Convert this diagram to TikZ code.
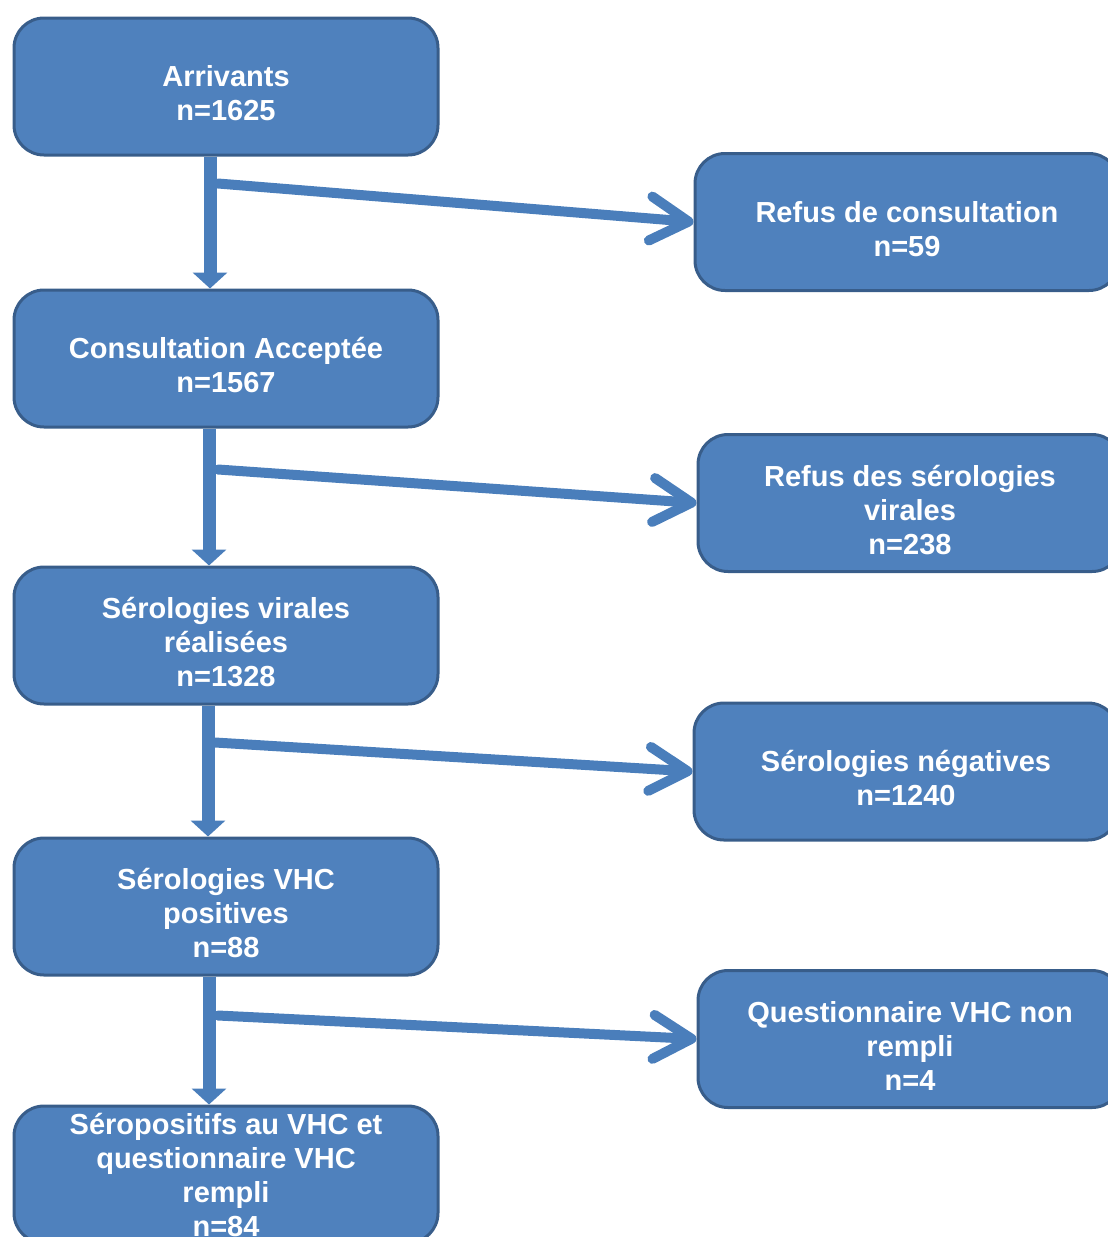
\documentclass[tikz,border=0pt]{standalone}
\usepackage{fontspec}
\setmainfont{Liberation Sans}
\usetikzlibrary{arrows.meta}
\definecolor{boxblue}{HTML}{4F81BD}
\definecolor{boxedge}{HTML}{385D8A}
\definecolor{arrowblue}{HTML}{4A7EBB}
\newcommand{\toppad}{\rule{0pt}{17.5pt}}
\begin{document}
\begin{tikzpicture}[
    x=0.5pt, y=-0.5pt,
    stage/.style={draw=boxedge, fill=boxblue, line width=1.5pt, rounded corners=15pt,
        minimum width=212pt, minimum height=68.5pt, align=center, text=white,
        font=\bfseries\fontsize{14.5}{17}\selectfont, inner sep=0pt},
    down/.style={arrowblue, line width=6.5pt, -{Triangle[length=8pt, width=17pt]}},
    side/.style={arrowblue, line width=5pt, line cap=round,
        -{Straight Barb[length=19pt, width=22pt, line cap=round, line join=round]}}
]
    \useasboundingbox (0,0) rectangle (1108,1237);
    \clip (0,0) rectangle (1108,1237);

    % main column
    \node[stage] (arr) at (226,86.5) {\toppad Arrivants\\n=1625};
    \node[stage] (acc) at (226,358.5) {\toppad Consultation Accept\'ee\\n=1567};
    \node[stage] (ser) at (226,635.5) {\toppad S\'erologies virales\\r\'ealis\'ees\\n=1328};
    \node[stage] (pos) at (226,906.5) {\toppad S\'erologies VHC\\positives\\n=88};
    \node[stage] (fin) at (226,1174.5) {S\'eropositifs au VHC et\\questionnaire VHC\\rempli\\n=84};

    % exclusions
    \node[stage] (ref) at (907,222) {\toppad Refus de consultation\\n=59};
    \node[stage] (rsv) at (910,503) {\toppad Refus des s\'erologies\\virales\\n=238};
    \node[stage] (neg) at (906,771.5) {\toppad S\'erologies n\'egatives\\n=1240};
    \node[stage] (qnr) at (910,1039) {\toppad Questionnaire VHC non\\rempli\\n=4};

    \draw[down] ([xshift=-8pt]arr.south) -- ([xshift=-8pt]acc.north);
    \draw[down] ([xshift=-8.5pt]acc.south) -- ([xshift=-8.5pt]ser.north);
    \draw[down] ([xshift=-9pt]ser.south) -- ([xshift=-9pt]pos.north);
    \draw[down] ([xshift=-8.5pt]pos.south) -- ([xshift=-8.5pt]fin.north);

    \coordinate (s1) at ([xshift=-4pt, yshift=-13.5pt]arr.south);
    \coordinate (s2) at ([xshift=-4pt, yshift=-20.5pt]acc.south);
    \coordinate (s3) at ([xshift=-5.5pt, yshift=-18.5pt]ser.south);
    \coordinate (s4) at ([xshift=-4pt, yshift=-19.5pt]pos.south);
    \draw[side] (s1) -- (ref.west);
    \draw[side] (s2) -- (rsv.west);
    \draw[side] (s3) -- (neg.west);
    \draw[side] (s4) -- (qnr.west);
\end{tikzpicture}
\end{document}
